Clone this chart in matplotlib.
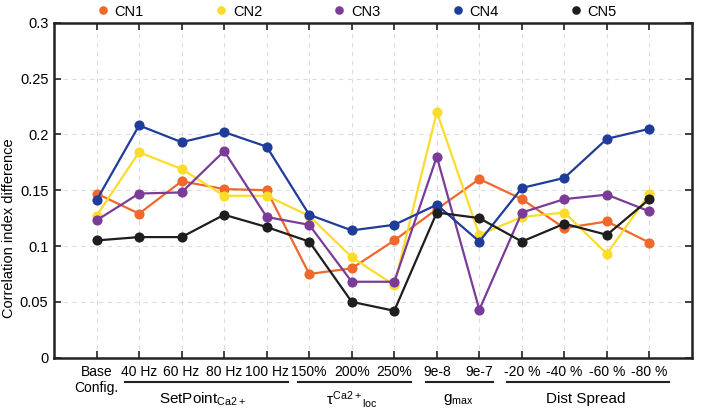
import matplotlib
matplotlib.use("Agg")
import matplotlib.pyplot as plt
import matplotlib.transforms as mtransforms
import numpy as np

plt.rcParams['font.family'] = ['Liberation Sans', 'DejaVu Sans']
plt.rcParams['mathtext.fontset'] = 'custom'
plt.rcParams['mathtext.rm'] = 'Liberation Sans'
plt.rcParams['mathtext.it'] = 'Liberation Sans'

categories = ["Base\nConfig.", "40 Hz", "60 Hz", "80 Hz", "100 Hz", "150%", "200%", "250%",
              "9e-8", "9e-7", "-20 %", "-40 %", "-60 %", "-80 %"]

cn1 = [0.147, 0.129, 0.158, 0.151, 0.150, 0.075, 0.080, 0.105, 0.133, 0.160, 0.142, 0.116, 0.122, 0.103]
cn2 = [0.127, 0.184, 0.169, 0.145, 0.145, 0.127, 0.090, 0.065, 0.220, 0.110, 0.126, 0.130, 0.093, 0.147]
cn3 = [0.123, 0.147, 0.148, 0.185, 0.126, 0.119, 0.068, 0.068, 0.180, 0.043, 0.130, 0.142, 0.146, 0.131]
cn4 = [0.141, 0.208, 0.193, 0.202, 0.189, 0.128, 0.114, 0.119, 0.137, 0.104, 0.152, 0.161, 0.196, 0.205]
cn5 = [0.105, 0.108, 0.108, 0.128, 0.117, 0.104, 0.050, 0.042, 0.130, 0.125, 0.104, 0.120, 0.110, 0.142]

series_names = ["CN1", "CN2", "CN3", "CN4", "CN5"]
series_colors = ["#F0682C", "#FCDC2A", "#7A3C98", "#1F3C9A", "#1E1E1E"]

groups = ["SetPoint$_{\\mathrm{Ca2+}}$", "$\\tau^{\\mathrm{Ca2+}}{}_{\\mathrm{loc}}$",
          "$g_{\\mathrm{max}}$", "Dist Spread"]
group_spans = [(1.67, 5.5), (5.73, 8.39), (8.75, 10.33), (10.65, 14.45)]
group_centers = [3.5, 7.0, 9.5, 12.5]

yticks = [0, 0.05, 0.1, 0.15, 0.2, 0.25, 0.3]

fig = plt.figure(figsize=(7.08, 4.11), dpi=100)
ax = fig.add_axes([0.0763, 0.1297, 0.9011, 0.8151])

x = np.arange(1, len(categories) + 1)
for vals, name, col in zip([cn1, cn2, cn3, cn4, cn5], series_names, series_colors):
    ax.plot(x, vals, '-o', color=col, lw=1.6, markersize=7.3, label=name,
            markeredgewidth=0)

ax.set_xlim(0, 15)
ax.set_ylim(0, 0.3)
ax.set_xticks(x)
ax.set_xticklabels(categories, fontsize=10)
ax.set_yticks(yticks)
ax.set_yticklabels(["%g" % v for v in yticks], fontsize=10.5)
ax.tick_params(axis='both', direction='in', length=5, width=1.2, top=True, right=True,
               color='#222222')
ax.tick_params(axis='x', pad=5)
ax.tick_params(axis='y', pad=4)
ax.grid(True, linestyle=(0, (4, 4)), color='#DDDDDD', lw=0.8)
ax.set_axisbelow(True)
for sp in ax.spines.values():
    sp.set_linewidth(1.8)
    sp.set_color('#222222')

ax.set_ylabel("Correlation index difference", fontsize=10.5)
ax.yaxis.set_label_coords(-0.060, 0.387)

trans = mtransforms.blended_transform_factory(ax.transData, fig.transFigure)
for label, (a, b), c in zip(groups, group_spans, group_centers):
    ax.plot([a, b], [0.071, 0.071], color='#222222', lw=1.5, transform=trans, clip_on=False)
    ax.text(c, 0.029, label, transform=trans, ha='center', va='center', fontsize=11)

leg = ax.legend(loc='lower center', bbox_to_anchor=(0.476, 0.995), ncol=5, frameon=False,
                handlelength=0.6, handletextpad=0.5, columnspacing=5.0, fontsize=10.5,
                borderaxespad=0.0, markerscale=0.85)
for h in leg.get_lines():
    h.set_linestyle('')

fig.savefig("out.png", dpi=100)
